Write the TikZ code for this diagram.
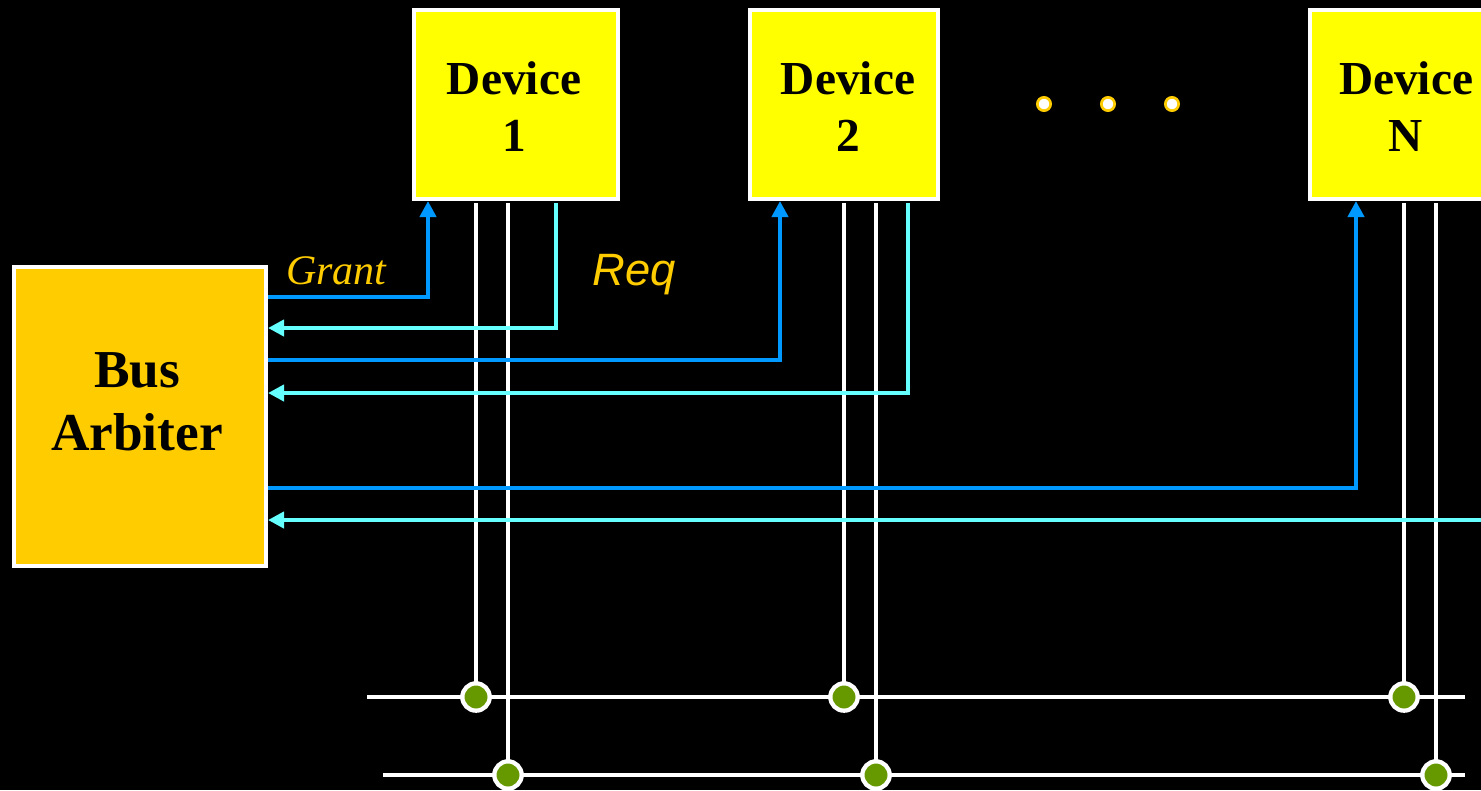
\documentclass[tikz,border=0pt]{standalone}
\usepackage{fontspec}
\setmainfont{Liberation Serif}
\newfontfamily\reqfont{Liberation Sans}
\usetikzlibrary{arrows.meta}
\definecolor{devyellow}{HTML}{FFFF00}
\definecolor{arbgold}{HTML}{FFCC00}
\definecolor{grantblue}{HTML}{0099FF}
\definecolor{reqcyan}{HTML}{66FFFF}
\definecolor{labelgold}{HTML}{FFCC00}
\definecolor{tapgreen}{HTML}{669900}
\tikzset{
  devbox/.style={draw=white, fill=devyellow, line width=3pt, inner sep=0pt,
    minimum width=#1, minimum height=141.75pt},
  arbbox/.style={draw=white, fill=arbgold, line width=3pt, inner sep=0pt,
    minimum width=189pt, minimum height=224pt},
  devtext/.style={font=\fontsize{35.5}{42.75}\selectfont\bfseries, align=center, text=black},
  arbtext/.style={font=\fontsize{40}{47.25}\selectfont\bfseries, align=center, text=black},
  grantline/.style={draw=grantblue, line width=3.3pt, -{Triangle[length=12pt,width=12pt]}},
  reqline/.style={draw=reqcyan, line width=3.3pt, -{Triangle[length=12pt,width=12pt]}},
  busline/.style={draw=white, line width=3.4pt},
  tap/.style={circle, draw=white, fill=tapgreen, line width=3.2pt, minimum size=20.5pt, inner sep=0pt},
  ellipsisdot/.style={circle, draw=labelgold, fill=white, line width=2pt, minimum size=10pt, inner sep=0pt},
}
\begin{document}
\begin{tikzpicture}[x=0.75pt,y=-0.75pt]
\fill[black] (0,0) rectangle (1481,790);
\clip (0,0) rectangle (1481,790);
\useasboundingbox (0,0) rectangle (1481,790);

% boxes
\node[devbox=153pt] (d1) at (516,104.5) {};
\node[devbox=141pt] (d2) at (844,104.5) {};
\node[devbox=147pt] (dN) at (1408,104.5) {};
\node[arbbox] (arb) at (140,416.5) {};

\node[devtext] (t1) at (514,107) {Device\\1};
\node[devtext] (t2) at (848,107) {Device\\2};
\node[devtext] (tN) at (1406,107) {Device\\N};
\node[arbtext] (ta) at (137,402) {Bus\\Arbiter};

% ellipsis
\node[ellipsisdot] (e1) at (1044,104) {};
\node[ellipsisdot] (e2) at (1108,104) {};
\node[ellipsisdot] (e3) at (1172,104) {};

% labels
\node[anchor=base west, inner sep=0pt, text=labelgold,
  font=\fontsize{31.5}{38}\selectfont\itshape] (grantlbl) at (286,284) {Grant};
\node[anchor=base west, inner sep=0pt, text=labelgold,
  font=\reqfont\fontsize{34}{40}\selectfont\itshape] (reqlbl) at (592,285) {Req};

% coordinates
\coordinate (g1) at (428,297);
\coordinate (g2) at (780,360);
\coordinate (gN) at (1356,488);
\coordinate (r1) at (556,203);
\coordinate (r1c) at (556,328);
\coordinate (r2) at (908,203);
\coordinate (r2c) at (908,393);
\coordinate (rN) at (1495,520);

\coordinate (v11) at (476,203);
\coordinate (v12) at (508,203);
\coordinate (v21) at (844,203);
\coordinate (v22) at (876,203);
\coordinate (vN1) at (1404,203);
\coordinate (vN2) at (1436,203);

\coordinate (bus1w) at (367,697);
\coordinate (bus1e) at (1465,697);
\coordinate (bus2w) at (383,775);
\coordinate (bus2e) at (1465,775);

% white bus lines
\draw[busline] (bus1w) -- (bus1e);
\draw[busline] (bus2w) -- (bus2e);
\draw[busline] (v11) -- (476,697);
\draw[busline] (v12) -- (508,775);
\draw[busline] (v21) -- (844,697);
\draw[busline] (v22) -- (876,775);
\draw[busline] (vN1) -- (1404,697);
\draw[busline] (vN2) -- (1436,775);

% taps
\node[tap] (j11) at (476,697) {};
\node[tap] (j21) at (844,697) {};
\node[tap] (jN1) at (1404,697) {};
\node[tap] (j12) at (508,775) {};
\node[tap] (j22) at (876,775) {};
\node[tap] (jN2) at (1436,775) {};

% grant lines
\draw[grantline] (arb.east |- g1) -| (g1 |- d1.south);
\draw[grantline] (arb.east |- g2) -| (g2 |- d2.south);
\draw[grantline] (arb.east |- gN) -| (gN |- dN.south);

% request lines
\draw[reqline] (r1) |- (arb.east |- r1c);
\draw[reqline] (r2) |- (arb.east |- r2c);
\draw[reqline] (rN) -- (arb.east |- rN);
\end{tikzpicture}
\end{document}
